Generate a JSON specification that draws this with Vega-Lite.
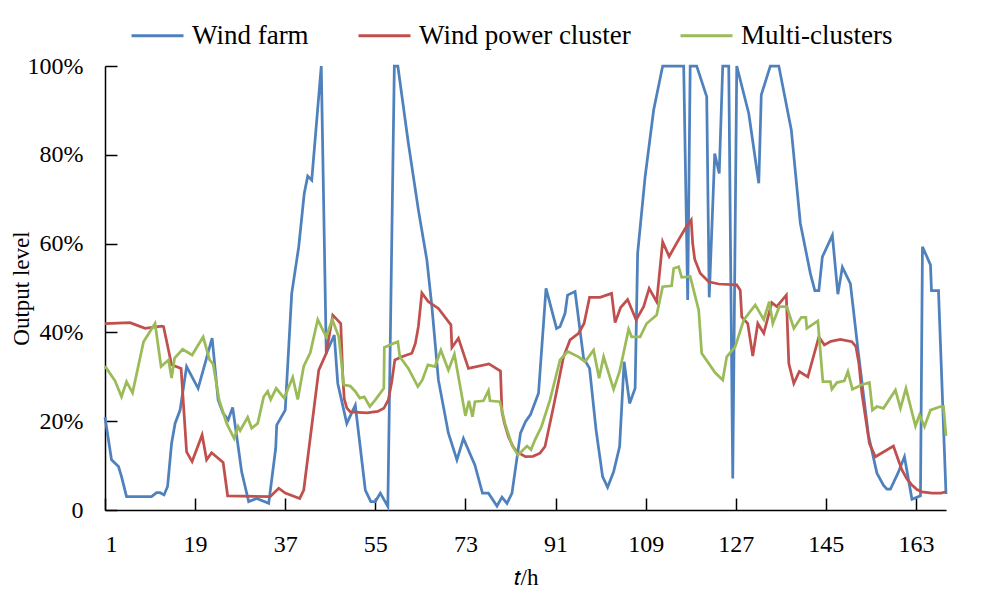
{
  "$schema": "https://vega.github.io/schema/vega-lite/v6.json",
  "width": 841,
  "height": 444,
  "autosize": {"type": "none"},
  "padding": {"left": 105, "top": 66, "right": 39, "bottom": 86},
  "background": "white",
  "config": {
    "view": {"stroke": null},
    "font": "Liberation Serif",
    "axis": {"domainColor": "black", "domainWidth": 1.5, "tickColor": "black", "tickWidth": 1.5, "tickSize": -12, "labelFont": "Liberation Serif", "labelFontSize": 24, "labelColor": "black", "titleFont": "Liberation Serif", "titleFontSize": 23, "titleColor": "black", "titleFontWeight": "normal", "grid": false}
  },
  "datasets": {
    "W": [{"t":1,"v":20.9},{"t":2.3,"v":11.3},{"t":3.7,"v":9.8},{"t":4.3,"v":7.5},{"t":5.3,"v":3.0},{"t":10.3,"v":3.0},{"t":11.3,"v":3.9},{"t":12,"v":3.9},{"t":12.8,"v":3.4},{"t":13.5,"v":5.3},{"t":14.3,"v":15},{"t":15,"v":19.5},{"t":16,"v":22.5},{"t":17.3,"v":32.3},{"t":19.6,"v":27.4},{"t":22.4,"v":38.7},{"t":23.6,"v":24.8},{"t":24.6,"v":21.8},{"t":25.6,"v":20.3},{"t":26.5,"v":23.1},{"t":27.6,"v":14.3},{"t":28.3,"v":8.6},{"t":29.7,"v":1.9},{"t":31.3,"v":2.6},{"t":33.7,"v":1.5},{"t":35.1,"v":13.9},{"t":35.3,"v":19.1},{"t":37,"v":22.5},{"t":38.3,"v":48.8},{"t":39.7,"v":59.3},{"t":40.8,"v":71.3},{"t":41.5,"v":75.2},{"t":42.3,"v":74.3},{"t":44.2,"v":100},{"t":45.2,"v":35.3},{"t":46.8,"v":39.4},{"t":47.5,"v":28.5},{"t":49.3,"v":19.5},{"t":51,"v":23.6},{"t":53,"v":4.5},{"t":54.1,"v":1.9},{"t":55,"v":1.9},{"t":56,"v":3.8},{"t":57.5,"v":0.8},{"t":58.8,"v":100},{"t":59.5,"v":100},{"t":61.6,"v":82.6},{"t":63.6,"v":67.6},{"t":65.3,"v":56.3},{"t":66.3,"v":45.8},{"t":67.6,"v":29.3},{"t":69.6,"v":17.3},{"t":71.3,"v":11.3},{"t":72.6,"v":16.1},{"t":74.9,"v":10.1},{"t":76.4,"v":3.8},{"t":77.6,"v":3.8},{"t":79.3,"v":0.9},{"t":80.3,"v":2.9},{"t":81.3,"v":1.5},{"t":82.3,"v":3.8},{"t":84,"v":17.3},{"t":85,"v":19.9},{"t":86,"v":21.5},{"t":87.6,"v":26.3},{"t":89.1,"v":49.9},{"t":91.2,"v":40.9},{"t":91.9,"v":41.3},{"t":92.9,"v":44.3},{"t":93.4,"v":48.4},{"t":94.9,"v":49.2},{"t":96.6,"v":34.2},{"t":97.8,"v":31.9},{"t":99.1,"v":18},{"t":100.4,"v":7.5},{"t":101.4,"v":5.1},{"t":102.6,"v":8.6},{"t":103.8,"v":14.3},{"t":104.7,"v":33.4},{"t":105.8,"v":24},{"t":106.9,"v":27.4},{"t":107.4,"v":57.8},{"t":108.9,"v":75.1},{"t":110.6,"v":90.1},{"t":112.4,"v":100},{"t":116.6,"v":100},{"t":117.4,"v":47.3},{"t":117.9,"v":100},{"t":119.2,"v":100},{"t":121.2,"v":93.1},{"t":121.7,"v":47.9},{"t":122.8,"v":80.3},{"t":123.7,"v":75.8},{"t":124.4,"v":100},{"t":125.6,"v":100},{"t":126.4,"v":7.1},{"t":127.2,"v":100},{"t":129.6,"v":89.3},{"t":131.6,"v":73.6},{"t":132.1,"v":93.5},{"t":133.9,"v":100},{"t":135.6,"v":100},{"t":138.1,"v":85.6},{"t":139.9,"v":64.6},{"t":141.9,"v":53.3},{"t":142.8,"v":49.4},{"t":143.6,"v":49.4},{"t":144.3,"v":57},{"t":146.3,"v":61.9},{"t":147.4,"v":48.6},{"t":148.3,"v":54.7},{"t":149.9,"v":51},{"t":151.5,"v":35.3},{"t":153.5,"v":16.9},{"t":155.2,"v":8.3},{"t":156.5,"v":5.6},{"t":157.2,"v":4.7},{"t":157.9,"v":4.7},{"t":159.4,"v":8.3},{"t":160.7,"v":12},{"t":162.2,"v":2.4},{"t":163.9,"v":3.2},{"t":164.3,"v":59.3},{"t":165.9,"v":55.2},{"t":166.1,"v":49.4},{"t":167.5,"v":49.4},{"t":169,"v":3.6}],
    "R": [{"t":1,"v":42},{"t":6,"v":42.2},{"t":9,"v":40.9},{"t":12.3,"v":41.4},{"t":12.7,"v":41.3},{"t":14.3,"v":32.7},{"t":16.2,"v":31.9},{"t":17.3,"v":13.1},{"t":18.4,"v":10.9},{"t":20.4,"v":16.9},{"t":21.3,"v":11.3},{"t":22.3,"v":12.9},{"t":24.6,"v":10.7},{"t":25.5,"v":3.2},{"t":34,"v":3.0},{"t":35.7,"v":4.9},{"t":37,"v":3.8},{"t":39.9,"v":2.6},{"t":40.7,"v":4.5},{"t":43.7,"v":31.5},{"t":45.2,"v":35.3},{"t":46.5,"v":43.9},{"t":48.1,"v":42},{"t":48.5,"v":30},{"t":48.8,"v":25},{"t":49.3,"v":23},{"t":50,"v":22.1},{"t":53.3,"v":21.9},{"t":55.5,"v":22.2},{"t":56.7,"v":22.9},{"t":57.6,"v":24.8},{"t":58.3,"v":29},{"t":58.9,"v":33.8},{"t":60.3,"v":34.5},{"t":62.3,"v":35.3},{"t":63,"v":37.5},{"t":63.6,"v":41.3},{"t":64.3,"v":48.9},{"t":65.6,"v":46.9},{"t":67.6,"v":45.4},{"t":70.1,"v":41.7},{"t":70.3,"v":36.6},{"t":71.6,"v":38.7},{"t":73.6,"v":31.9},{"t":77.7,"v":32.9},{"t":80,"v":31.3},{"t":80.3,"v":22.1},{"t":80.8,"v":19.5},{"t":81.6,"v":16.5},{"t":82.5,"v":14.3},{"t":83.3,"v":13.1},{"t":85,"v":12},{"t":86.5,"v":12.1},{"t":87.9,"v":12.8},{"t":88.9,"v":14.3},{"t":90.6,"v":23.3},{"t":92.6,"v":34.5},{"t":93.9,"v":38.3},{"t":95.6,"v":39.8},{"t":96.7,"v":42},{"t":97.8,"v":47.9},{"t":99.9,"v":47.9},{"t":102.2,"v":48.8},{"t":102.9,"v":42.2},{"t":104,"v":45.6},{"t":105.4,"v":47.4},{"t":107.1,"v":42.8},{"t":108.6,"v":45.8},{"t":109.7,"v":49.9},{"t":111.2,"v":46.9},{"t":112.4,"v":60.4},{"t":113.7,"v":57.1},{"t":115.2,"v":60.1},{"t":116.9,"v":63.4},{"t":118.1,"v":65.3},{"t":118.4,"v":60},{"t":118.8,"v":56.5},{"t":119.9,"v":53.3},{"t":121.6,"v":51.4},{"t":123.6,"v":50.9},{"t":127.2,"v":50.7},{"t":127.9,"v":49.5},{"t":128.2,"v":43.5},{"t":129.4,"v":42},{"t":130.4,"v":34.7},{"t":131.4,"v":42},{"t":132.6,"v":39.8},{"t":134.2,"v":46.7},{"t":135.2,"v":45.8},{"t":137.1,"v":48.4},{"t":137.6,"v":33},{"t":138.6,"v":28.5},{"t":139.7,"v":31.2},{"t":141.4,"v":30},{"t":143.6,"v":39},{"t":144.7,"v":37.2},{"t":146,"v":38},{"t":147.9,"v":38.4},{"t":150.2,"v":37.9},{"t":151,"v":36.8},{"t":151.6,"v":33},{"t":152.2,"v":26.3},{"t":153.7,"v":15},{"t":154.9,"v":12},{"t":158.5,"v":14.4},{"t":159.4,"v":11.5},{"t":160.2,"v":9},{"t":161.2,"v":7},{"t":162.2,"v":5.6},{"t":163.2,"v":4.6},{"t":164.2,"v":4.1},{"t":166.2,"v":3.8},{"t":168,"v":3.8},{"t":169,"v":4.1}],
    "G": [{"t":1,"v":32.4},{"t":3,"v":29.1},{"t":4.3,"v":25.5},{"t":5.3,"v":28.9},{"t":6.5,"v":26.4},{"t":8.7,"v":37.9},{"t":11,"v":42},{"t":12.2,"v":32.3},{"t":13.7,"v":33.8},{"t":14.3,"v":29.7},{"t":14.9,"v":34.2},{"t":16.5,"v":36.2},{"t":18.4,"v":34.9},{"t":20.6,"v":39},{"t":21.9,"v":33.8},{"t":22.6,"v":32.9},{"t":23.8,"v":24.8},{"t":25.3,"v":19.5},{"t":26.8,"v":16.1},{"t":27.6,"v":18.8},{"t":28,"v":17.9},{"t":29.5,"v":20.9},{"t":30.3,"v":18.4},{"t":31.5,"v":19.5},{"t":32.7,"v":25.5},{"t":33.5,"v":26.7},{"t":34.1,"v":24.9},{"t":35.2,"v":27.4},{"t":36.8,"v":25.2},{"t":38.5,"v":29.9},{"t":39.5,"v":24.9},{"t":40.7,"v":32.4},{"t":42,"v":35.4},{"t":43.5,"v":42.9},{"t":45.2,"v":39},{"t":46.4,"v":42.9},{"t":47.7,"v":39},{"t":48.7,"v":28.2},{"t":50,"v":27.9},{"t":51,"v":26.7},{"t":51.9,"v":25.2},{"t":52.8,"v":25.5},{"t":53.9,"v":23.3},{"t":55,"v":24.8},{"t":56.7,"v":27.4},{"t":56.8,"v":36.6},{"t":58,"v":37.2},{"t":59.5,"v":37.9},{"t":59.9,"v":34.5},{"t":61.6,"v":31.9},{"t":63.5,"v":27.8},{"t":64.4,"v":29.3},{"t":65.5,"v":32.7},{"t":66.9,"v":32.3},{"t":68.1,"v":36},{"t":69.6,"v":31.5},{"t":70.8,"v":35.1},{"t":73,"v":21.2},{"t":73.7,"v":24.6},{"t":74.4,"v":21},{"t":74.9,"v":24.4},{"t":76.6,"v":24.6},{"t":77.6,"v":26.9},{"t":77.9,"v":24.6},{"t":79.9,"v":24.4},{"t":80.9,"v":19.5},{"t":82.3,"v":14.6},{"t":83.5,"v":12.4},{"t":85.3,"v":14.4},{"t":86.1,"v":13.6},{"t":86.9,"v":15.8},{"t":88.2,"v":18.8},{"t":89.9,"v":24.8},{"t":91.9,"v":33.8},{"t":93.4,"v":35.7},{"t":95.6,"v":34.5},{"t":96.9,"v":33.4},{"t":98.6,"v":36},{"t":99.7,"v":29.7},{"t":100.6,"v":34.5},{"t":102.6,"v":27.2},{"t":103.8,"v":31.2},{"t":105.6,"v":40.7},{"t":106.2,"v":39},{"t":107.9,"v":39},{"t":109.2,"v":42},{"t":111.2,"v":43.9},{"t":112.4,"v":50.3},{"t":114.2,"v":50.5},{"t":114.6,"v":54.4},{"t":115.6,"v":54.8},{"t":116.2,"v":52.4},{"t":117.9,"v":52.6},{"t":119.6,"v":45},{"t":120.2,"v":35.3},{"t":122.9,"v":30.9},{"t":124.4,"v":29.3},{"t":125.2,"v":34.5},{"t":126.9,"v":36.8},{"t":128.6,"v":42.8},{"t":130.9,"v":46.2},{"t":132.6,"v":42.9},{"t":133.7,"v":46.9},{"t":134.4,"v":42},{"t":135.7,"v":45.8},{"t":137.2,"v":45.8},{"t":138.6,"v":40.9},{"t":140.1,"v":43.4},{"t":141,"v":43.4},{"t":141.2,"v":40.9},{"t":143.4,"v":42.6},{"t":144.4,"v":28.9},{"t":145.9,"v":28.9},{"t":146.2,"v":27.2},{"t":147.2,"v":28.7},{"t":148.7,"v":29.1},{"t":149.4,"v":31.2},{"t":150.3,"v":27.2},{"t":152.2,"v":28.2},{"t":153.7,"v":28.7},{"t":154.3,"v":22.5},{"t":155.2,"v":23.3},{"t":156.5,"v":22.9},{"t":158.9,"v":27},{"t":159.9,"v":22.9},{"t":161,"v":27.4},{"t":162.9,"v":18.9},{"t":163.7,"v":21.4},{"t":164.7,"v":18.8},{"t":165.9,"v":22.5},{"t":167.9,"v":23.3},{"t":168.5,"v":23.3},{"t":169,"v":16.7}]
  },
  "layer": [
    {
      "data": {"name": "W"},
      "mark": {"type": "line", "strokeWidth": 2.75, "clip": false},
      "encoding": {
        "x": {"field": "t", "type": "quantitative", "scale": {"domain": [1, 169], "nice": false, "zero": false}, "axis": {"values": [1, 19, 37, 55, 73, 91, 109, 127, 145, 163], "title": "𝑡/h", "labelPadding": 34, "titlePadding": 10}},
        "y": {"field": "v", "type": "quantitative", "scale": {"domain": [0, 100], "nice": false}, "axis": {"values": [0, 20, 40, 60, 80, 100], "labelExpr": "datum.value == 0 ? '0' : datum.value + '%'", "title": "Output level", "labelPadding": 34, "titlePadding": -6}},
        "color": {"datum": "Wind farm", "type": "nominal", "scale": {"domain": ["Wind farm", "Wind power cluster", "Multi-clusters"], "range": ["#4F81BD", "#C0504D", "#9BBB59"]}, "legend": {"title": null, "orient": "none", "legendX": 25, "legendY": -58, "direction": "horizontal", "symbolType": "stroke", "symbolSize": 2704, "symbolStrokeWidth": 3, "labelFont": "Liberation Serif", "labelFontSize": 27, "labelColor": "black", "labelOffset": 7, "columnPadding": 43, "labelLimit": 400}}
      }
    },
    {
      "data": {"name": "R"},
      "mark": {"type": "line", "strokeWidth": 2.75, "clip": false},
      "encoding": {
        "x": {"field": "t", "type": "quantitative"},
        "y": {"field": "v", "type": "quantitative"},
        "color": {"datum": "Wind power cluster", "type": "nominal"}
      }
    },
    {
      "data": {"name": "G"},
      "mark": {"type": "line", "strokeWidth": 2.75, "clip": false},
      "encoding": {
        "x": {"field": "t", "type": "quantitative"},
        "y": {"field": "v", "type": "quantitative"},
        "color": {"datum": "Multi-clusters", "type": "nominal"}
      }
    }
  ]
}
